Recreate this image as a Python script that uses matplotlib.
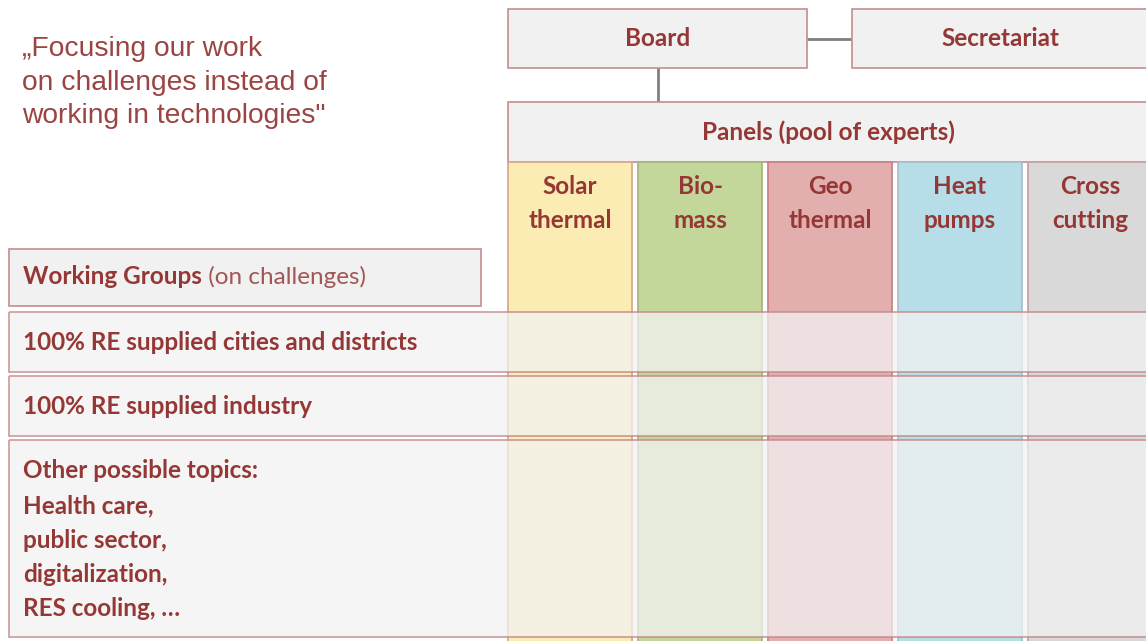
import matplotlib.pyplot as plt
from matplotlib.patches import Rectangle

# organisation chart, drawn in pixel coordinates (y down)
W, H = 1146, 641

quote_lines = ['„Focusing our work', 'on challenges instead of', 'working in technologies"']
top_boxes = ['Board', 'Secretariat']
panel_title = 'Panels (pool of experts)'
panel_labels = ['Solar\nthermal', 'Bio-\nmass', 'Geo\nthermal', 'Heat\npumps', 'Cross\ncutting']
panel_colors = ['#fbecb3', '#c4d79b', '#e3aeae', '#b7dee8', '#d9d9d9']
panel_edges = ['#dba98e', '#a8b67c', '#c98483', '#a9c0cc', '#c9a3a3']
wg_title = ['Working Groups', ' (on challenges)']
group_rows = ['100% RE supplied cities and districts',
              '100% RE supplied industry',
              'Other possible topics:\nHealth care,\npublic sector,\ndigitalization,\nRES cooling, …']

red = '#953735'
box_edge = '#c79695'
box_fill = '#f1f1f1'
font = 'Lato'
fs = 17.5

fig = plt.figure(figsize=(W / 100, H / 100), dpi=100)
ax = fig.add_axes([0, 0, 1, 1])
ax.set_xlim(0, W)
ax.set_ylim(H, 0)
ax.axis('off')


def box(x, y, w, h, fc=box_fill, ec=box_edge, alpha=1.0, z=1, lw=1.3):
    ax.add_patch(Rectangle((x, y), w, h, facecolor=fc, edgecolor=ec, lw=lw, alpha=alpha, zorder=z))


# quote
for i, s in enumerate(quote_lines):
    ax.text(22, 49 + i * 33.5, s, fontsize=20.3, family='Liberation Sans', color='#9a4543',
            va='center', ha='left')

# board / secretariat
box(508, 9, 299, 59)
box(852, 9, 310, 59)
ax.plot([807, 852], [39, 39], color='#7f7f7f', lw=2, zorder=0)
ax.plot([658, 658], [68, 102], color='#7f7f7f', lw=2, zorder=0)
ax.text(658, 39, top_boxes[0], fontsize=fs, family=font, weight='bold', color=red,
        ha='center', va='center')
ax.text(1000, 39, top_boxes[1], fontsize=fs, family=font, weight='bold', color=red,
        ha='center', va='center')

# panels header
box(508, 102, 660, 60)
ax.text(828, 132, panel_title, fontsize=fs, family=font, weight='bold', color=red,
        ha='center', va='center')

# panel columns
col_x0, col_step, col_w = 508, 130, 124
for i, (lab, c, e) in enumerate(zip(panel_labels, panel_colors, panel_edges)):
    x = col_x0 + i * col_step
    box(x, 162, col_w, 500, fc=c, ec=e, z=1)
    for j, s in enumerate(lab.split('\n')):
        ax.text(x + col_w / 2, 186 + j * 34, s, fontsize=fs, family=font, weight='bold',
                color=red, ha='center', va='center', zorder=4)

# working group header
box(9, 249, 472, 57)
t = ax.text(23, 277, wg_title[0], fontsize=fs, family=font, weight='bold', color=red,
            ha='left', va='center', zorder=4)
fig.canvas.draw()
bb = t.get_window_extent().transformed(ax.transData.inverted())
ax.text(bb.x1, 277, wg_title[1], fontsize=fs, family=font, color='#a35654',
        ha='left', va='center', zorder=4)

# working group rows, semi-transparent over the columns
row_tops = [312, 376, 440]
row_h = [60, 60, 197]
for top, h, lab in zip(row_tops, row_h, group_rows):
    box(9, top, 1160, h, fc='#f2f2f2', ec='none', alpha=0.75, z=2)
    box(9, top, 1160, h, fc='none', ec='#c48a8a', alpha=0.8, z=3)
    lines = lab.split('\n')
    y0 = top + h / 2 if len(lines) == 1 else top + 31
    for j, s in enumerate(lines):
        ax.text(23, y0 + j * 34.5, s, fontsize=fs, family=font, weight='bold', color=red,
                ha='left', va='center', zorder=4)

fig.savefig('out.png', dpi=100)
